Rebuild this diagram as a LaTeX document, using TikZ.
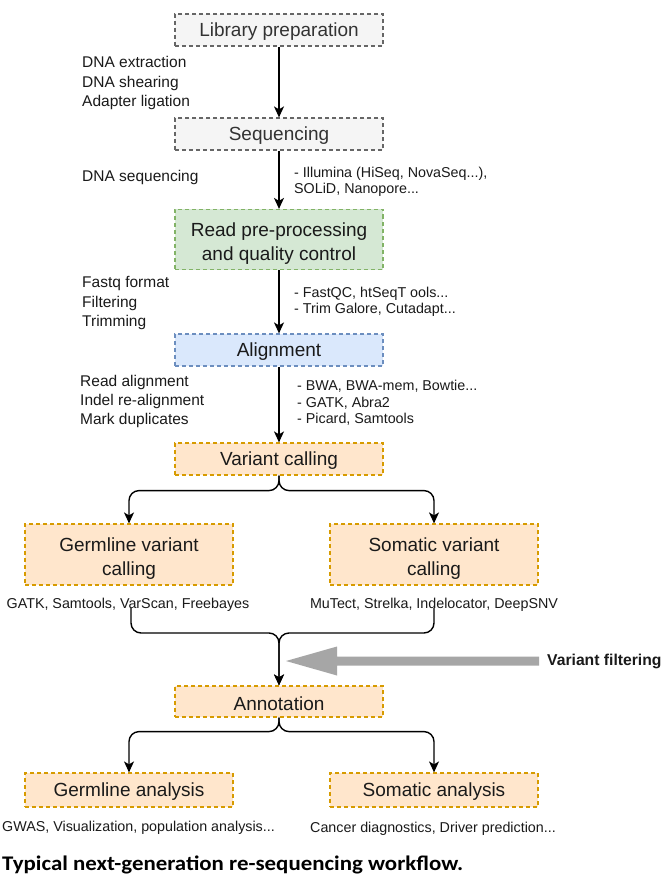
\documentclass[tikz,border=0pt]{standalone}
\usepackage{fontspec}
\setmainfont{Liberation Sans}
\newfontfamily\capfont[FakeStretch=1.1]{Carlito}
\usetikzlibrary{arrows.meta,calc}
\definecolor{gfill}{HTML}{F5F5F5}\definecolor{gdraw}{HTML}{666666}
\definecolor{grfill}{HTML}{D5E8D4}\definecolor{grdraw}{HTML}{82B366}
\definecolor{bfill}{HTML}{DAE8FC}\definecolor{bdraw}{HTML}{6C8EBF}
\definecolor{ofill}{HTML}{FFE6CC}\definecolor{odraw}{HTML}{D79B00}
\definecolor{arrgray}{HTML}{A6A6A6}
\definecolor{txt}{HTML}{1A1A1A}
\newcommand\boxupone{\rule{0pt}{17.5pt}}
\newcommand\boxuptwo{\rule{0pt}{21.5pt}}
\begin{document}
\begin{tikzpicture}[x=1pt,y=-1pt,
  box/.style={draw, line width=1.2pt, dash pattern=on 4pt off 3pt, minimum width=208pt,
    inner sep=0pt, align=center, text=txt, font=\fontsize{19}{23.5}\selectfont},
  graybox/.style={box, fill=gfill, draw=gdraw, text=black!80},
  greenbox/.style={box, fill=grfill, draw=grdraw},
  bluebox/.style={box, fill=bfill, draw=bdraw},
  orangebox/.style={box, fill=ofill, draw=odraw},
  lbl/.style={align=left, inner sep=0pt, text=txt, font=\fontsize{15.5}{19.4}\selectfont},
  tool/.style={align=left, inner sep=0pt, text=txt, font=\fontsize{14.3}{16.3}\selectfont},
  arr/.style={line width=1.4pt, -{Stealth[length=11pt,width=10pt,inset=3pt]}},
  merge/.style={arr, rounded corners=10pt}
]
\useasboundingbox (0,0) rectangle (666,885);
\fill[white] (0,0) rectangle (666,885);

% boxes
\node[graybox, minimum height=32pt] (lib) at (279,30) {\boxupone Library preparation};
\node[graybox, minimum height=32pt] (seq) at (279,134) {\boxupone Sequencing};
\node[greenbox, minimum height=60pt] (qc) at (279,239.5) {\boxuptwo Read pre-processing\\and quality control};
\node[bluebox, minimum height=32pt] (aln) at (279,350) {\boxupone Alignment};
\node[orangebox, minimum height=32pt] (vc) at (279,459) {\boxupone Variant calling};
\node[orangebox, minimum height=61pt] (gvc) at (129,554.5) {\boxuptwo Germline variant\\calling};
\node[orangebox, minimum height=61pt] (svc) at (434,554.5) {\boxuptwo Somatic variant\\calling};
\node[orangebox, minimum height=31pt] (ann) at (279,701.5) {\boxupone Annotation};
\node[orangebox, minimum height=34pt] (ga) at (129,790) {\boxupone Germline analysis};
\node[orangebox, minimum height=34pt] (sa) at (434,790) {\boxupone Somatic analysis};

% side labels
\node[lbl, anchor=west] (l1) at (82,83) {DNA extraction\\DNA shearing\\Adapter ligation};
\node[lbl, anchor=west] (l2) at (82,177.5) {DNA sequencing};
\node[tool, anchor=west] (r2) at (294,182) {- Illumina (HiSeq, NovaSeq...),\\SOLiD, Nanopore...};
\node[lbl, anchor=west] (l3) at (82,303) {Fastq format\\Filtering\\Trimming};
\node[tool, anchor=west] (r3) at (294,301.5) {- FastQC, htSeqT ools...\\- Trim Galore, Cutadapt...};
\node[lbl, anchor=west] (l4) at (80,401.5) {Read alignment\\Indel re-alignment\\Mark duplicates};
\node[tool, anchor=west] (r4) at (297,403) {- BWA, BWA-mem, Bowtie...\\- GATK, Abra2\\- Picard, Samtools};

\node[tool] (gt) at (128,604.5) {GATK, Samtools, VarScan, Freebayes};
\node[tool] (st) at (434,604.5) {MuTect, Strelka, Indelocator, DeepSNV};
\node[tool, anchor=west] (gat) at (2,827.5) {GWAS, Visualization, population analysis...};
\node[tool] (sat) at (433,828.5) {Cancer diagnostics, Driver prediction...};

\node[inner sep=0pt, anchor=west, text=txt, font=\fontsize{15.7}{18}\selectfont\bfseries] (vf) at (547,661) {Variant filtering};
\node[inner sep=0pt, anchor=west, font=\capfont\fontsize{20.8}{24}\selectfont\bfseries] (cap) at (2,865) {Typical next-generation re-sequencing workflow.};

% straight arrows
\draw[arr] (lib) -- (seq);
\draw[arr] (seq) -- (qc);
\draw[arr] (qc) -- (aln);
\draw[arr] (aln) -- (vc);

% branches
\draw[merge] (vc.south) -- ++(0,15) -| (gvc.north);
\draw[merge] (vc.south) -- ++(0,15) -| (svc.north);
\draw[merge] (ann.south) -- ++(0,14) -| (ga.north);
\draw[merge] (ann.south) -- ++(0,14) -| (sa.north);

% merge
\coordinate (m1) at (131,608);
\coordinate (m2) at (434,608);
\coordinate (j) at (279,633);
\draw[merge] (m1) |- (j) -- (ann.north);
\draw[merge] (m2) |- (j) -- (ann.north);

% variant filtering arrow
\coordinate (vfs) at (539,661);
\coordinate (vft) at (286,661);
\fill[arrgray] ([yshift=4.5pt]vfs) -- ([xshift=51pt,yshift=4.5pt]vft) -- ([xshift=51pt,yshift=14.5pt]vft)
  -- (vft) -- ([xshift=51pt,yshift=-14.5pt]vft) -- ([xshift=51pt,yshift=-4.5pt]vft) -- ([yshift=-4.5pt]vfs) -- cycle;
\end{tikzpicture}
\end{document}
